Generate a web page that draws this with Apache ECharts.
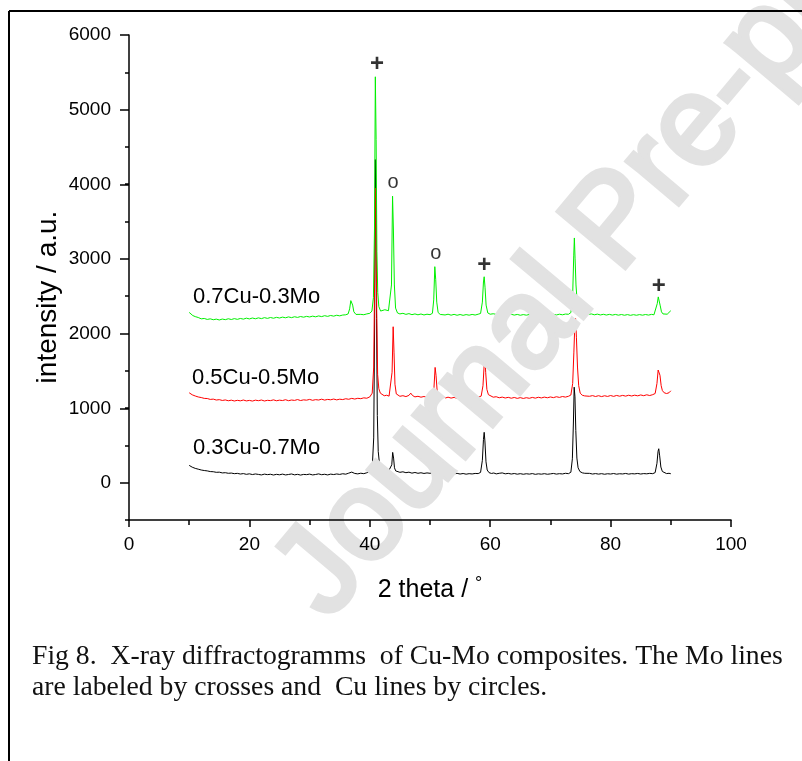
<!DOCTYPE html>
<html>
<head>
<meta charset="utf-8">
<script src="https://cdn.jsdelivr.net/npm/echarts@6/dist/echarts.min.js"></script>
<style>
  html, body { margin: 0; padding: 0; background: #fff; }
  #chart { width: 802px; height: 761px; }
</style>
</head>
<body>
<div id="chart"></div>
<script>
// X-ray diffraction patterns of Cu-Mo composites: [2 theta (deg), intensity (a.u.)]
const pattern_03Cu_07Mo = [
  [10,232],[10.5,208],[11,192],[11.5,181],[12,170],[12.5,163],[13,158],[13.5,149],[14,147],[14.5,139],
  [15,141],[15.5,131],[16,134],[16.5,126],[17,129],[17.5,121],[18,125],[18.5,116],[19,122],[19.5,112],
  [20,119],[20.5,109],[21,117],[21.5,111],[22,104],[22.5,115],[23,108],[23.5,113],[24,103],[24.5,112],
  [25,106],[25.5,115],[26,104],[26.5,110],[27,117],[27.5,105],[28,112],[28.5,102],[29,111],[29.5,108],
  [30,115],[30.5,104],[31,110],[31.5,118],[32,107],[32.5,113],[33,104],[33.5,115],[34,109],[34.5,117],
  [35,111],[35.5,120],[36,114],[36.5,128],[37,142],[37.5,124],[38,118],[38.5,127],[39,121],[39.5,133],
  [40,146],[40.4,190],[40.65,600],[40.8,2100],[40.92,4330],[41.02,3700],[41.12,2200],[41.25,900],[41.4,420],[41.6,260],
  [41.9,200],[42.2,178],[42.5,166],[42.8,160],[43.1,152],[43.4,158],[43.65,240],[43.8,406],[43.95,330],[44.1,200],
  [44.3,158],[44.6,148],[45,139],[45.5,146],[46,134],[46.5,141],[47,128],[47.5,137],[48,126],[48.5,133],
  [49,124],[49.5,131],[50,126],[50.4,134],[50.75,212],[50.95,150],[51.2,128],[51.5,134],[52,122],[52.5,129],
  [53,118],[53.5,126],[54,119],[54.5,125],[55,116],[55.5,123],[56,114],[56.5,121],[57,117],[57.5,124],
  [58,122],[58.4,138],[58.7,300],[58.88,580],[59,675],[59.12,560],[59.3,280],[59.5,170],[59.8,135],[60.2,124],
  [60.6,130],[61,118],[61.5,126],[62,131],[62.5,119],[63,125],[63.5,116],[64,123],[64.5,114],[65,121],
  [65.5,113],[66,120],[66.5,115],[67,122],[67.5,112],[68,119],[68.5,114],[69,121],[69.5,113],[70,118],
  [70.5,124],[71,115],[71.5,121],[72,117],[72.5,126],[73,121],[73.4,140],[73.65,320],[73.82,800],[73.95,1280],
  [74.08,1150],[74.22,700],[74.4,330],[74.6,200],[74.9,150],[75.3,132],[75.7,126],[76,119],[76.5,125],[77,116],
  [77.5,122],[78,115],[78.5,121],[79,113],[79.5,120],[80,116],[80.5,123],[81,114],[81.5,120],[82,117],
  [82.5,124],[83,115],[83.5,121],[84,118],[84.5,124],[85,116],[85.5,122],[86,119],[86.5,125],[87,121],
  [87.4,135],[87.7,260],[87.88,420],[88,455],[88.15,360],[88.35,210],[88.6,150],[88.9,130],[89.3,122],[89.7,126],
  [90,120]
];

const pattern_05Cu_05Mo = [
  [10,1205],[10.5,1178],[11,1162],[11.5,1149],[12,1141],[12.5,1130],[13,1128],[13.5,1116],[14,1120],[14.5,1108],
  [15,1113],[15.5,1102],[16,1109],[16.5,1098],[17,1106],[17.5,1095],[18,1104],[18.5,1097],[19,1108],[19.5,1096],
  [20,1103],[20.5,1094],[21,1106],[21.5,1099],[22,1108],[22.5,1095],[23,1104],[23.5,1100],[24,1110],[24.5,1098],
  [25,1106],[25.5,1101],[26,1112],[26.5,1099],[27,1108],[27.5,1103],[28,1114],[28.5,1101],[29,1110],[29.5,1106],
  [30,1116],[30.5,1104],[31,1113],[31.5,1108],[32,1119],[32.5,1107],[33,1116],[33.5,1111],[34,1121],[34.5,1110],
  [35,1119],[35.5,1114],[36,1125],[36.5,1118],[37,1130],[37.5,1121],[38,1131],[38.5,1126],[39,1137],[39.5,1132],
  [40,1150],[40.4,1200],[40.65,1550],[40.8,2700],[40.95,3950],[41.05,3400],[41.15,2300],[41.3,1450],[41.5,1260],[41.75,1200],
  [42,1178],[42.4,1165],[42.8,1172],[43.2,1160],[43.5,1175],[43.7,1480],[43.88,2090],[44.02,1750],[44.18,1320],[44.4,1190],
  [44.7,1165],[45,1158],[45.5,1166],[46,1154],[46.5,1170],[46.8,1200],[47.1,1168],[47.5,1150],[48,1158],[48.5,1146],
  [49,1155],[49.5,1143],[50,1152],[50.4,1160],[50.65,1260],[50.85,1545],[51,1440],[51.18,1240],[51.45,1160],[51.8,1140],
  [52.2,1150],[52.6,1136],[53,1146],[53.5,1134],[54,1143],[54.5,1131],[55,1140],[55.5,1130],[56,1141],[56.5,1132],
  [57,1144],[57.5,1135],[58,1147],[58.5,1160],[58.8,1300],[59,1580],[59.12,1710],[59.25,1480],[59.45,1250],[59.7,1180],
  [60,1158],[60.5,1146],[61,1152],[61.5,1138],[62,1147],[62.5,1135],[63,1144],[63.5,1132],[64,1142],[64.5,1130],
  [65,1140],[65.5,1129],[66,1139],[66.5,1131],[67,1143],[67.5,1133],[68,1145],[68.5,1136],[69,1147],[69.5,1138],
  [70,1149],[70.5,1140],[71,1152],[71.5,1143],[72,1155],[72.5,1147],[73,1158],[73.4,1175],[73.7,1330],[73.9,1750],
  [74.05,2100],[74.18,2200],[74.32,1950],[74.5,1550],[74.7,1300],[74.95,1200],[75.3,1172],[75.7,1163],[76,1170],[76.5,1158],
  [77,1167],[77.5,1155],[78,1166],[78.5,1154],[79,1165],[79.5,1156],[80,1168],[80.5,1157],[81,1169],[81.5,1159],
  [82,1170],[82.5,1160],[83,1172],[83.5,1162],[84,1173],[84.5,1164],[85,1176],[85.5,1166],[86,1178],[86.5,1168],
  [87,1180],[87.4,1195],[87.7,1330],[87.9,1510],[88.05,1525],[88.2,1440],[88.4,1300],[88.6,1235],[88.9,1205],[89.3,1195],
  [89.7,1205],[90,1232]
];

const pattern_07Cu_03Mo = [
  [10,2282],[10.3,2258],[10.6,2240],[11,2226],[11.5,2214],[12,2196],[12.5,2201],[13,2188],[13.5,2196],[14,2184],
  [14.5,2192],[15,2181],[15.5,2193],[16,2185],[16.5,2197],[17,2187],[17.5,2199],[18,2189],[18.5,2201],[19,2192],
  [19.5,2205],[20,2195],[20.5,2207],[21,2197],[21.5,2209],[22,2199],[22.5,2212],[23,2202],[23.5,2214],[24,2204],
  [24.5,2216],[25,2207],[25.5,2219],[26,2210],[26.5,2222],[27,2212],[27.5,2224],[28,2215],[28.5,2227],[29,2218],
  [29.5,2229],[30,2221],[30.5,2232],[31,2223],[31.5,2235],[32,2226],[32.5,2238],[33,2229],[33.5,2241],[34,2232],
  [34.5,2244],[35,2236],[35.5,2247],[36,2250],[36.4,2262],[36.65,2330],[36.85,2440],[37,2445],[37.15,2380],[37.35,2290],
  [37.7,2255],[38,2248],[38.5,2256],[39,2251],[39.5,2262],[40,2270],[40.35,2300],[40.6,2480],[40.78,3400],[40.92,5440],
  [41.05,4600],[41.18,3100],[41.32,2550],[41.5,2360],[41.8,2300],[42.1,2295],[42.5,2318],[42.8,2335],[43.1,2305],[43.35,2320],
  [43.6,2650],[43.78,3840],[43.92,3400],[44.08,2650],[44.28,2340],[44.6,2275],[45,2262],[45.5,2270],[46,2256],[46.5,2266],
  [47,2252],[47.5,2262],[48,2250],[48.5,2261],[49,2248],[49.5,2258],[50,2252],[50.4,2270],[50.62,2450],[50.8,2895],
  [50.95,2720],[51.12,2420],[51.35,2280],[51.7,2255],[52,2262],[52.5,2248],[53,2258],[53.5,2245],[54,2256],[54.5,2244],
  [55,2254],[55.5,2243],[56,2253],[56.5,2245],[57,2255],[57.5,2247],[58,2258],[58.4,2268],[58.7,2420],[58.88,2690],
  [59,2760],[59.14,2620],[59.32,2380],[59.6,2275],[60,2258],[60.5,2264],[61,2256],[61.5,2276],[61.9,2316],[62.3,2284],
  [62.7,2258],[63,2249],[63.5,2257],[64,2246],[64.5,2255],[65,2244],[65.5,2253],[66,2245],[66.5,2254],[67,2243],
  [67.5,2252],[68,2244],[68.5,2254],[69,2245],[69.5,2255],[70,2247],[70.5,2257],[71,2248],[71.5,2258],[72,2250],
  [72.5,2260],[73,2257],[73.4,2280],[73.7,2520],[73.88,3050],[73.98,3280],[74.1,3000],[74.25,2650],[74.45,2420],[74.7,2340],
  [75,2310],[75.3,2345],[75.55,2290],[75.9,2265],[76.3,2255],[76.8,2262],[77.3,2250],[77.8,2259],[78.3,2248],[78.8,2257],
  [79.3,2247],[79.8,2256],[80.3,2246],[80.8,2255],[81.3,2245],[81.8,2254],[82.3,2244],[82.8,2253],[83.3,2243],[83.8,2252],
  [84.3,2244],[84.8,2253],[85.3,2245],[85.8,2254],[86.3,2246],[86.8,2256],[87.2,2250],[87.5,2275],[87.75,2400],[87.92,2490],
  [88.08,2470],[88.25,2370],[88.45,2290],[88.7,2262],[89,2252],[89.4,2258],[89.7,2272],[90,2305]
];

// Reflection markers: Mo lines (crosses) and Cu lines (circles)
const moLineMarks = [[41.2, 5600], [59.0, 2915], [88.0, 2628]];
const cuLineMarks = [[43.85, 4020], [50.95, 3070]];

// Axis tick values
const xTicks = [0, 20, 40, 60, 80, 100];
const yTicks = [0, 1000, 2000, 3000, 4000, 5000, 6000];

const sampleNames = ['0.7Cu-0.3Mo', '0.5Cu-0.5Mo', '0.3Cu-0.7Mo'];
const yTitle = 'intensity / a.u.';
const captionLines = [
  'Fig 8.  X-ray diffractogramms  of Cu-Mo composites. The Mo lines',
  'are labeled by crosses and  Cu lines by circles.'
];

const SANS = '"Liberation Sans", Arial, sans-serif';
const SERIF = '"Liberation Serif", "Times New Roman", serif';

const chart = echarts.init(document.getElementById('chart'), null, { renderer: 'canvas' });

const gridLeft = 129, gridTop = 35, gridWidth = 602;

const option = {
  animation: false,
  backgroundColor: '#ffffff',
  grid: [
    { left: gridLeft, top: gridTop, width: gridWidth, height: 485 },
    { left: gridLeft, top: gridTop, width: gridWidth, height: 448 }
  ],
  xAxis: [
    {
      gridIndex: 0, type: 'value', min: xTicks[0], max: xTicks[xTicks.length - 1], interval: 20,
      z: 5,
      axisLine: { show: true, onZero: false, lineStyle: { color: '#000', width: 1.5 } },
      axisTick: { show: true, inside: false, length: 7, lineStyle: { color: '#000', width: 1.5 } },
      minorTick: { show: true, splitNumber: 2, length: 5, lineStyle: { color: '#000', width: 1.5 } },
      splitLine: { show: false },
      axisLabel: { show: true, margin: 15, color: '#000', fontSize: 19, fontFamily: SANS,
                   formatter: v => String(v) },
      name: '{t|2 theta / }{d|°}',
      nameLocation: 'middle',
      nameGap: 55,
      nameTextStyle: {
        color: '#000', fontFamily: SANS, fontSize: 25,
        rich: {
          t: { fontSize: 25, fontFamily: SANS, color: '#000' },
          d: { fontSize: 18, fontFamily: SANS, color: '#000', verticalAlign: 'top', padding: [0, 0, 12, 0] }
        }
      }
    },
    { gridIndex: 1, type: 'value', min: 0, max: 100, show: false }
  ],
  yAxis: [
    {
      gridIndex: 0, type: 'value', min: -500, max: 6000, interval: 500,
      z: 5,
      axisLine: { show: true, onZero: false, lineStyle: { color: '#000', width: 1.5 } },
      axisTick: { show: true, inside: false, length: 4, lineStyle: { color: '#000', width: 1.5 } },
      splitLine: { show: false },
      axisLabel: { show: false }
    },
    {
      gridIndex: 1, type: 'value', min: yTicks[0], max: yTicks[yTicks.length - 1], interval: 1000,
      z: 5,
      axisLine: { show: false, onZero: false },
      axisTick: { show: true, inside: false, length: 9, lineStyle: { color: '#000', width: 1.5 } },
      splitLine: { show: false },
      axisLabel: { show: true, margin: 18, color: '#000', fontSize: 19, fontFamily: SANS,
                   formatter: v => String(v) }
    }
  ],
  series: [
    {
      name: sampleNames[2], type: 'line', xAxisIndex: 0, yAxisIndex: 0, z: 1,
      data: pattern_03Cu_07Mo, showSymbol: false, symbol: 'none',
      lineStyle: { color: '#000000', width: 1 }, itemStyle: { color: '#000000' }
    },
    {
      name: sampleNames[1], type: 'line', xAxisIndex: 0, yAxisIndex: 0, z: 1,
      data: pattern_05Cu_05Mo, showSymbol: false, symbol: 'none',
      lineStyle: { color: '#ff0000', width: 1 }, itemStyle: { color: '#ff0000' }
    },
    {
      name: sampleNames[0], type: 'line', xAxisIndex: 0, yAxisIndex: 0, z: 1,
      data: pattern_07Cu_03Mo, showSymbol: false, symbol: 'none',
      lineStyle: { color: '#00f000', width: 1 }, itemStyle: { color: '#00f000' }
    },
    {
      name: 'Mo', type: 'scatter', xAxisIndex: 0, yAxisIndex: 0, z: 4,
      data: moLineMarks, symbolSize: 0,
      label: { show: true, position: 'inside', formatter: '+', color: '#000',
               fontSize: 24, fontWeight: 'bold', fontFamily: SANS }
    },
    {
      name: 'Cu', type: 'scatter', xAxisIndex: 0, yAxisIndex: 0, z: 4,
      data: cuLineMarks, symbolSize: 0,
      label: { show: true, position: 'inside', formatter: 'o', color: '#000',
               fontSize: 20, fontFamily: SANS }
    }
  ],
  graphic: [
    // page frame
    { type: 'line', z: 10, shape: { x1: 9, y1: 11, x2: 802, y2: 11 }, style: { stroke: '#000', lineWidth: 2 } },
    { type: 'line', z: 10, shape: { x1: 9, y1: 11, x2: 9, y2: 761 }, style: { stroke: '#000', lineWidth: 2 } },
    // watermark
    {
      type: 'text', z: 3, x: 350, y: 640, rotation: 50 * Math.PI / 180,
      style: {
        text: 'Journal Pre-proof', x: 0, y: 0, fontSize: 127, fontFamily: SANS,
        fill: '#e2e2e2', stroke: '#e2e2e2', lineWidth: 5,
        textAlign: 'left', textVerticalAlign: 'bottom'
      }
    },
    // y axis title
    {
      type: 'text', z: 6, x: 48, y: 297, rotation: Math.PI / 2,
      style: { text: yTitle, fontSize: 28, fontFamily: SANS, fill: '#000',
               textAlign: 'center', textVerticalAlign: 'middle' }
    },
    // sample labels
    { type: 'text', z: 6, x: 193, y: 297, style: { text: sampleNames[0], fontSize: 22, fontFamily: SANS, fill: '#000', textVerticalAlign: 'middle' } },
    { type: 'text', z: 6, x: 192, y: 378, style: { text: sampleNames[1], fontSize: 22, fontFamily: SANS, fill: '#000', textVerticalAlign: 'middle' } },
    { type: 'text', z: 6, x: 193, y: 448, style: { text: sampleNames[2], fontSize: 22, fontFamily: SANS, fill: '#000', textVerticalAlign: 'middle' } },
    // caption
    { type: 'text', z: 6, x: 32, y: 657, style: { text: captionLines[0], fontSize: 27.7, fontFamily: SERIF, fill: '#111', textVerticalAlign: 'middle' } },
    { type: 'text', z: 6, x: 32, y: 688, style: { text: captionLines[1], fontSize: 27.7, fontFamily: SERIF, fill: '#111', textVerticalAlign: 'middle' } }
  ]
};

chart.setOption(option);
</script>
</body>
</html>
